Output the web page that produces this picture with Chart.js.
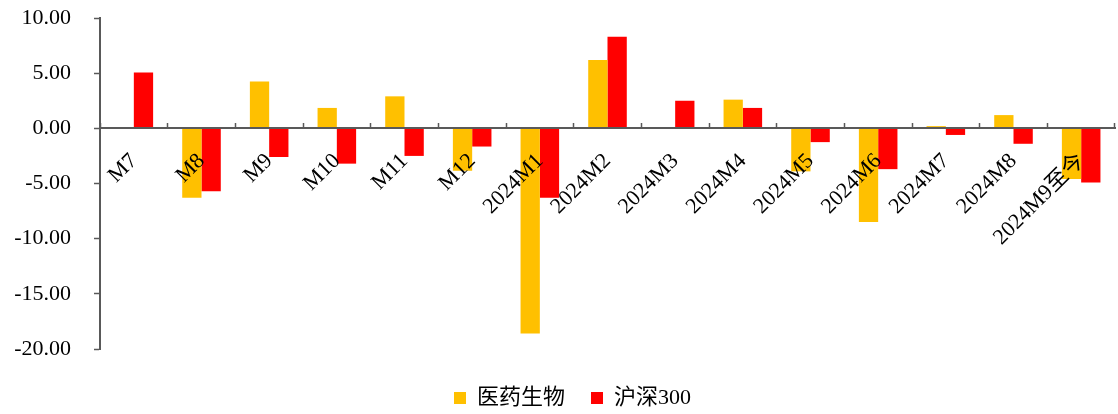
<!DOCTYPE html>
<html>
<head>
<meta charset="utf-8">
<script src="https://cdn.jsdelivr.net/npm/chart.js@4"></script>
<style>
  html, body { margin: 0; padding: 0; background: #fff; }
  #box { width: 1118px; height: 414px; }
</style>
</head>
<body>
<div id="box"><canvas id="Graphique"></canvas></div>
<script>
/*
  Graphique : variation mensuelle 医药生物 vs 沪深300
*/
var categories = ['M7', 'M8', 'M9', 'M10', 'M11', 'M12', '2024M1', '2024M2', '2024M3',
    '2024M4', '2024M5', '2024M6', '2024M7', '2024M8', '2024M9至今'];
var yiyao = [0, -6.3, 4.25, 1.85, 2.9, -3.85, -18.6, 6.2, 0.05, 2.6, -3.9, -8.5, 0.2, 1.2, -4.6];
var hushen = [5.05, -5.7, -2.6, -3.2, -2.5, -1.65, -6.3, 8.3, 2.5, 1.85, -1.25, -3.7, -0.6, -1.4, -4.9];
var yTicks = [-20, -15, -10, -5, 0, 5, 10];

var police = "'Liberation Serif', 'Times New Roman', 'Noto Sans CJK SC', serif";
var axisColor = '#595959';

var chartElem = document.getElementById('Graphique').getContext('2d');

// décale un peu la légende vers la droite
var decaleLegende = {
    id: 'decaleLegende',
    afterLayout: function (chart) {
        if (chart.legend) chart.legend.left += 30;
    }
};

var data = {
    labels: categories,
    datasets: [{
        label: '医药生物',
        data: yiyao,
        backgroundColor: '#FFC000',
        borderWidth: 0
    }, {
        label: '沪深300',
        data: hushen,
        backgroundColor: '#FF0000',
        borderWidth: 0
    }]
};

var option = {
    responsive: true,
    maintainAspectRatio: false,
    animation: false,
    layout: {
        padding: { top: 18, right: 3, bottom: -5, left: 0 }
    },
    datasets: {
        bar: {
            categoryPercentage: 0.57,
            barPercentage: 1.0
        }
    },
    plugins: {
        legend: {
            position: 'bottom',
            title: { //titre vide, juste pour laisser de l'espace au-dessus de la légende
                display: true,
                text: ' ',
                font: { size: 10 },
                padding: 0
            },
            labels: {
                color: '#000',
                font: { family: police, size: 22 },
                boxWidth: 12,
                boxHeight: 12,
                padding: 26
            }
        },
        tooltip: { enabled: false }
    },
    scales: {
        x: {
            position: { y: 0 }, // axe des X sur la ligne du zéro
            offset: true,
            grid: {
                display: true,
                drawOnChartArea: false,
                drawTicks: true,
                tickLength: -6, // petits traits vers le haut
                tickColor: axisColor,
                tickWidth: 1.5,
                offset: true
            },
            border: { display: true, color: axisColor, width: 2, z: 1 },
            ticks: {
                z: 1, // les libellés passent devant les barres
                color: '#000',
                font: { family: police, size: 22 },
                minRotation: 45,
                maxRotation: 45,
                autoSkip: false,
                padding: 26
            },
            afterFit: function (scale) {
                scale.height = 0;
                scale.paddingLeft = 0;
                scale.paddingRight = 0;
            }
        },
        y: {
            min: -20,
            max: 10,
            afterBuildTicks: function (scale) {
                scale.ticks = yTicks.map(function (v) { return { value: v }; });
            },
            grid: {
                drawOnChartArea: false,
                drawTicks: true,
                tickLength: 6,
                tickColor: axisColor,
                tickWidth: 1.5
            },
            border: { display: true, color: axisColor, width: 2 },
            ticks: {
                color: '#000',
                font: { family: police, size: 22 },
                padding: 23,
                callback: function (v) { return Number(v).toFixed(2); }
            },
            afterFit: function (scale) {
                scale.width = 100;
                scale.paddingTop = 0;
                scale.paddingBottom = 0;
            }
        }
    }
};

var chartObj = new Chart(chartElem, {
    type: 'bar',
    data: data,
    options: option,
    plugins: [decaleLegende]
});
</script>
</body>
</html>
